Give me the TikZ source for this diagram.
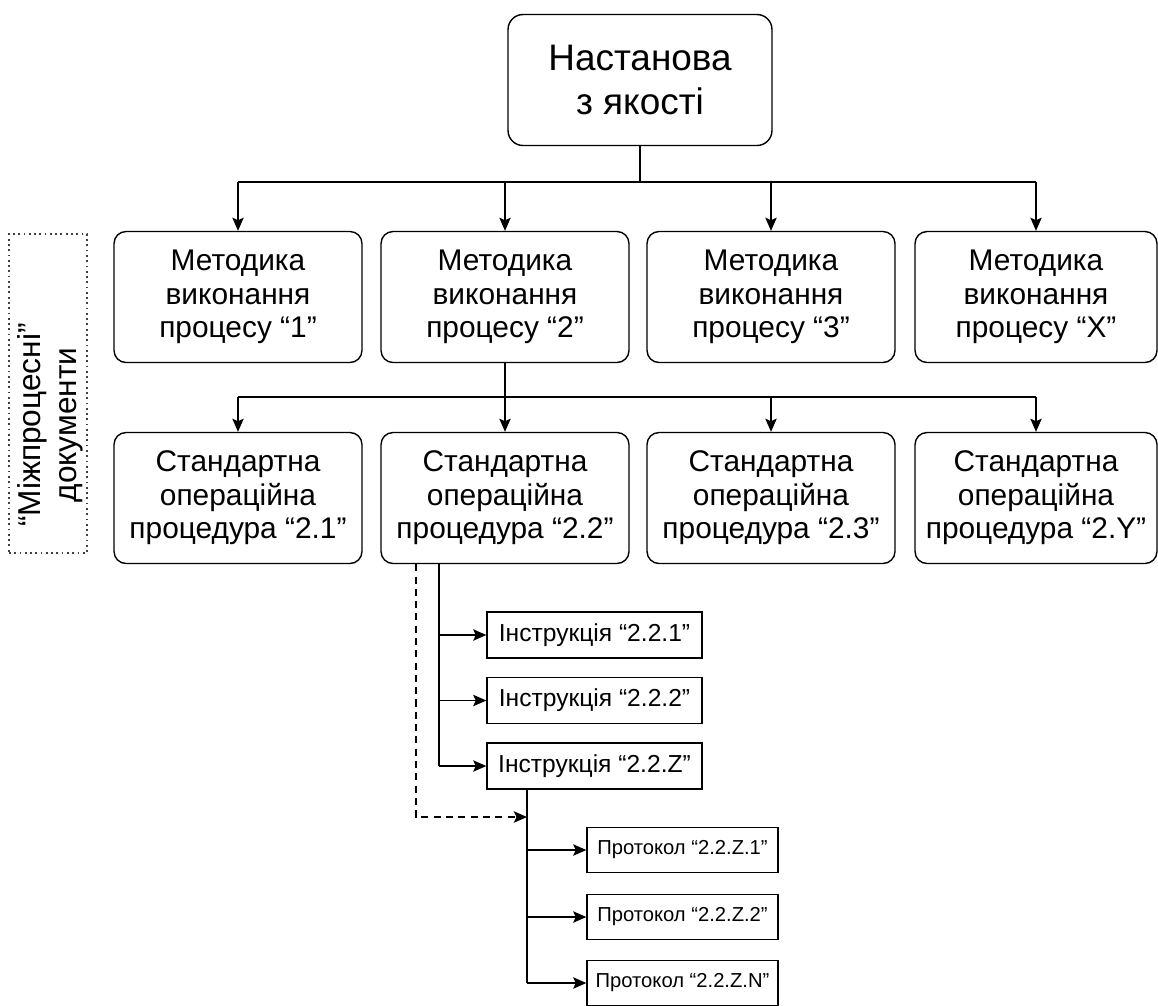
\documentclass[tikz,border=0pt]{standalone}
\usepackage{fontspec}
\setmainfont{Liberation Sans}
\usetikzlibrary{arrows.meta}

\begin{document}
\begin{tikzpicture}[x=0.02cm,y=-0.02cm,line width=0.8pt,
		>={Stealth[length=7.5pt,width=6.5pt,inset=1.5pt]},
		blok/.style={draw,rounded corners=0.24cm,align=center,minimum width=4.96cm,minimum height=2.62cm,font=\fontsize{17}{19}\selectfont},
		instr/.style={draw,minimum width=4.3cm,minimum height=0.92cm,font=\fontsize{14}{16}\selectfont},
		prot/.style={draw,minimum width=3.82cm,minimum height=0.9cm,font=\fontsize{11.5}{13}\selectfont}]
	\useasboundingbox (0,0) rectangle (1158,1005);
	\node[blok,minimum width=5.28cm,rounded corners=0.3cm,font=\fontsize{21}{24.5}\selectfont] (nast) at (640,80) {Настанова\\з якості};
	\node[blok] (m1) at (238,297) {Методика\\виконання\\процесу “1”};
	\node[blok] (m2) at (505,297) {Методика\\виконання\\процесу “2”};
	\node[blok] (m3) at (771,297) {Методика\\виконання\\процесу “3”};
	\node[blok,minimum width=4.84cm] (m4) at (1036,297) {Методика\\виконання\\процесу “X”};
	\node[blok] (s1) at (238,498) {Стандартна\\операційна\\процедура “2.1”};
	\node[blok] (s2) at (505,498) {Стандартна\\операційна\\процедура “2.2”};
	\node[blok] (s3) at (771,498) {Стандартна\\операційна\\процедура “2.3”};
	\node[blok,minimum width=4.84cm] (s4) at (1036,498) {Стандартна\\операційна\\процедура “2.Y”};
	\node[instr] (i1) at (594.5,635) {Інструкція “2.2.1”};
	\node[instr] (i2) at (594.5,700.5) {Інструкція “2.2.2”};
	\node[instr] (i3) at (594.5,766) {Інструкція “2.2.Z”};
	\node[prot] (p1) at (682.5,850) {Протокол “2.2.Z.1”};
	\node[prot] (p2) at (682.5,917) {Протокол “2.2.Z.2”};
	\node[prot] (p3) at (682.5,983) {Протокол “2.2.Z.N”};
	\node[draw,black!75,line width=1pt,dotted,minimum width=1.56cm,minimum height=6.38cm] (ramka) at (48,393.5) {};
	\node[rotate=90,align=center,font=\fontsize{18}{20.4}\selectfont] (mizh) at (50,425) {“Міжпроцесні”\\документи};

	\coordinate (bus1) at (0,182);
	\coordinate (bus2) at (0,397);
	\coordinate (instx) at (439,0);
	\coordinate (dashx) at (416,0);
	\coordinate (kink) at (527,817);

	\draw (nast.south) -- (nast.south |- bus1);
	\draw (m1.north |- bus1) -- (m4.north |- bus1);
	\foreach \n in {m1,m2,m3,m4}
		\draw[->] (\n.north |- bus1) -- (\n.north);
	\draw (m2.south) -- (m2.south |- bus2);
	\draw (s1.north |- bus2) -- (s4.north |- bus2);
	\foreach \n in {s1,s2,s3,s4}
		\draw[->] (\n.north |- bus2) -- (\n.north);
	\draw (s2.south -| instx) -- (i3.west -| instx);
	\foreach \n in {i1,i2,i3}
		\draw[->] (\n.west -| instx) -- (\n.west);
	\draw[->,dash pattern=on 4pt off 3pt] (s2.south -| dashx) |- (kink);
	\draw (i3.south -| kink) -- (p3.west -| kink);
	\foreach \n in {p1,p2,p3}
		\draw[->] (\n.west -| kink) -- (\n.west);
\end{tikzpicture}
\end{document}
